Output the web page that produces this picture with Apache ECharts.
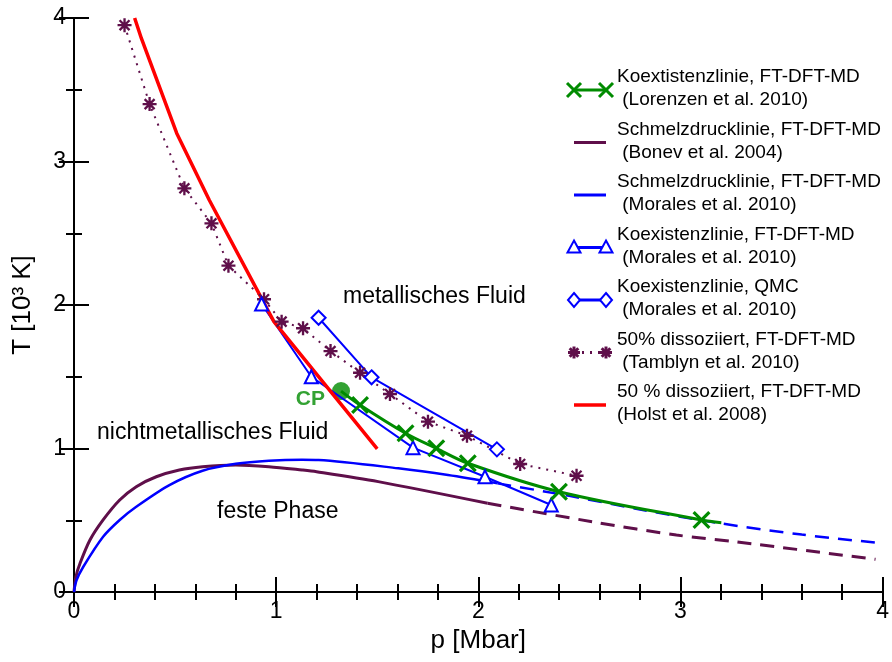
<!DOCTYPE html>
<html>
<head>
<meta charset="utf-8">
<script src="https://cdn.jsdelivr.net/npm/echarts@6/dist/echarts.min.js"></script>
<style>
  html, body { margin: 0; padding: 0; background: #fff; }
  #chart { width: 892px; height: 662px; }
</style>
</head>
<body>
<div id="chart"></div>
<script>
// ---- Phase diagram of hydrogen: p in Mbar, T in 10^3 K ----

// Melting line, Bonev et al. 2004 (computed part, then extrapolation)
const bonevP = [0, 0.01, 0.03, 0.079, 0.144, 0.226, 0.308, 0.407, 0.521, 0.636, 0.80, 0.964, 1.128, 1.20, 1.505, 2.046];
const bonevT = [0, 0.11, 0.2, 0.362, 0.502, 0.641, 0.734, 0.803, 0.850, 0.873, 0.885, 0.873, 0.850, 0.838, 0.769, 0.618];
const bonevExtP = [2.046, 2.587, 2.98, 3.276, 3.965];
const bonevExtT = [0.618, 0.484, 0.397, 0.349, 0.228];

// Melting line, Morales et al. 2010 (computed part, then extrapolation)
const moralesMeltP = [0, 0.012, 0.046, 0.144, 0.226, 0.308, 0.472, 0.636, 0.80, 0.964, 1.128, 1.21, 1.604, 1.85, 2.095];
const moralesMeltT = [0, 0.08, 0.176, 0.385, 0.502, 0.594, 0.745, 0.845, 0.893, 0.915, 0.922, 0.92, 0.862, 0.815, 0.757];
const moralesMeltExtP = [2.095, 2.45, 2.8, 3.2, 3.6, 4.0];
const moralesMeltExtT = [0.757, 0.67, 0.575, 0.478, 0.40, 0.339];

// Coexistence line FT-DFT-MD, Morales et al. 2010
const moralesCoexP = [0.928, 1.174, 1.677, 2.033, 2.361];
const moralesCoexT = [2.007, 1.500, 1.006, 0.803, 0.606];

// Coexistence line QMC, Morales et al. 2010
const qmcP = [1.210, 1.472, 2.092];
const qmcT = [1.911, 1.496, 0.994];

// 50 % dissociation, Tamblyn et al. 2010
const tamblynP = [0.25, 0.374, 0.546, 0.68, 0.764, 0.94, 1.027, 1.133, 1.269, 1.415, 1.563, 1.751, 1.944, 2.207, 2.486];
const tamblynT = [3.95, 3.40, 2.813, 2.569, 2.274, 2.04, 1.884, 1.838, 1.679, 1.528, 1.380, 1.187, 1.089, 0.892, 0.810];

// 50 % dissociation, Holst et al. 2008
const holstP = [0.30, 0.333, 0.508, 0.669, 0.989, 1.500];
const holstT = [4.0, 3.859, 3.197, 2.732, 1.884, 0.997];

// Coexistence line, Lorenzen et al. 2010 (starts at the critical point)
const lorenzenP = [1.321, 1.415, 1.640, 1.792, 1.948, 2.399, 3.104, 3.202];
const lorenzenT = [1.40, 1.303, 1.106, 1.001, 0.897, 0.699, 0.502, 0.483];
const lorenzenMarked = [false, true, true, true, true, true, true, false];

// Critical point
const cpP = [1.321];
const cpT = [1.40];

// Axis ticks
const axisMin = 0, axisMax = 4, axisStep = 1;

const purple = '#5f0f4a';
const blue = '#0000ff';
const green = '#008b00';
const red = '#ff0000';
const FONT = '"Liberation Sans", Arial, Helvetica, sans-serif';

const zip = (xs, ys) => xs.map((x, i) => [x, ys[i]]);

const starPath = 'path://M10 0L14 0L14 24L10 24Z M0 10L24 10L24 14L0 14Z M2.1 4.9L4.9 2.1L21.9 19.1L19.1 21.9Z M19.1 2.1L21.9 4.9L4.9 21.9L2.1 19.1Z';
const crossPath = 'path://M0 3L3 0L12 9L21 0L24 3L15 12L24 21L21 24L12 15L3 24L0 21L9 12Z';

function makeAxis(position, minorSplit, withLabel) {
  return {
    type: 'value',
    position: position,
    min: axisMin,
    max: axisMax,
    interval: axisStep,
    axisLine: { show: true, lineStyle: { color: '#000', width: 2 } },
    axisTick: { show: true, inside: true, length: 15, lineStyle: { color: '#000', width: 2 } },
    minorTick: { show: true, splitNumber: minorSplit, length: 8, lineStyle: { color: '#000', width: 2 } },
    splitLine: { show: false },
    axisLabel: { show: withLabel, color: '#000', fontSize: 23, fontFamily: FONT, margin: 8 }
  };
}

const series = [
  {
    name: 'bonev', type: 'line', data: zip(bonevP, bonevT), smooth: 0.3, symbol: 'none',
    lineStyle: { color: purple, width: 3 }
  },
  {
    name: 'bonevExt', type: 'line', data: zip(bonevExtP, bonevExtT), smooth: 0.3, symbol: 'none',
    lineStyle: { color: purple, width: 3, type: [14, 9] }
  },
  {
    name: 'moralesMelt', type: 'line', data: zip(moralesMeltP, moralesMeltT), smooth: 0.3, symbol: 'none',
    lineStyle: { color: blue, width: 2.5 }
  },
  {
    name: 'moralesMeltExt', type: 'line', data: zip(moralesMeltExtP, moralesMeltExtT), smooth: 0.3, symbol: 'none',
    lineStyle: { color: blue, width: 2.5, type: [14, 9] }
  },
  {
    name: 'tamblyn', type: 'line', data: zip(tamblynP, tamblynT), symbol: starPath, symbolSize: 14,
    itemStyle: { color: purple }, lineStyle: { color: purple, width: 2, type: [2, 6] }
  },
  {
    name: 'moralesCoex', type: 'line', data: zip(moralesCoexP, moralesCoexT), symbol: 'triangle', symbolSize: 13,
    itemStyle: { color: '#fff', borderColor: blue, borderWidth: 2 }, lineStyle: { color: blue, width: 2 }
  },
  {
    name: 'qmc', type: 'line', data: zip(qmcP, qmcT), symbol: 'diamond', symbolSize: 14,
    itemStyle: { color: '#fff', borderColor: blue, borderWidth: 2 }, lineStyle: { color: blue, width: 2 }
  },
  {
    name: 'holst', type: 'line', data: zip(holstP, holstT), symbol: 'none',
    lineStyle: { color: red, width: 3.5 }
  },
  {
    name: 'lorenzen', type: 'line', smooth: 0.35, symbolSize: 18,
    data: lorenzenP.map((p, i) => ({ value: [p, lorenzenT[i]], symbol: lorenzenMarked[i] ? crossPath : 'none' })),
    itemStyle: { color: green }, lineStyle: { color: green, width: 3 }
  },
  {
    name: 'CP', type: 'scatter', data: zip(cpP, cpT), symbol: 'circle', symbolSize: 18,
    itemStyle: { color: green },
    label: { show: true, formatter: 'CP', position: 'left', distance: 7, offset: [0, 8],
             color: green, fontSize: 21, fontWeight: 'bold', fontFamily: FONT }
  }
];
series.forEach(s => { s.xAxisIndex = 0; s.yAxisIndex = 0; s.silent = true; });

// Legend drawn as graphics: two text lines per entry, sample line with markers at both ends
const legendEntries = [
  { l1: 'Koextistenzlinie, FT-DFT-MD', l2: ' (Lorenzen et al. 2010)', color: green, marker: 'cross', dash: null },
  { l1: 'Schmelzdrucklinie, FT-DFT-MD', l2: ' (Bonev et al. 2004)', color: purple, marker: null, dash: null },
  { l1: 'Schmelzdrucklinie, FT-DFT-MD', l2: ' (Morales et al. 2010)', color: blue, marker: null, dash: null },
  { l1: 'Koexistenzlinie, FT-DFT-MD', l2: ' (Morales et al. 2010)', color: blue, marker: 'triangle', dash: null },
  { l1: 'Koexistenzlinie, QMC', l2: ' (Morales et al. 2010)', color: blue, marker: 'diamond', dash: null },
  { l1: '50% dissoziiert, FT-DFT-MD', l2: ' (Tamblyn et al. 2010)', color: purple, marker: 'star', dash: [2, 6] },
  { l1: '50 % dissoziiert, FT-DFT-MD', l2: '(Holst et al. 2008)', color: red, marker: null, dash: null }
];

const graphics = [];
const legTextX = 617, legTop = 77, legStep = 52.5, legLineGap = 23;
const legFont = '19px ' + FONT;
const seg = (x1, y1, x2, y2, color, w) =>
  ({ type: 'line', shape: { x1, y1, x2, y2 }, style: { stroke: color, lineWidth: w } });

legendEntries.forEach((e, i) => {
  const y1 = legTop + i * legStep;
  const ys = y1 + 13;
  graphics.push({ type: 'text', x: legTextX, y: y1, style: { text: e.l1, fill: '#000', font: legFont, textVerticalAlign: 'middle' } });
  graphics.push({ type: 'text', x: legTextX, y: y1 + legLineGap, style: { text: e.l2, fill: '#000', font: legFont, textVerticalAlign: 'middle' } });
  const x0 = 574, x1 = 606;
  graphics.push({ type: 'line', shape: { x1: x0, y1: ys, x2: x1, y2: ys },
    style: { stroke: e.color, lineWidth: e.color === red ? 3.5 : 3, lineDash: e.dash || null } });
  [x0, x1].forEach(cx => {
    if (e.marker === 'cross') {
      graphics.push(seg(cx - 7, ys - 7, cx + 7, ys + 7, e.color, 3));
      graphics.push(seg(cx - 7, ys + 7, cx + 7, ys - 7, e.color, 3));
    } else if (e.marker === 'star') {
      graphics.push(seg(cx - 6, ys, cx + 6, ys, e.color, 3));
      graphics.push(seg(cx, ys - 6, cx, ys + 6, e.color, 3));
      graphics.push(seg(cx - 4.3, ys - 4.3, cx + 4.3, ys + 4.3, e.color, 3));
      graphics.push(seg(cx - 4.3, ys + 4.3, cx + 4.3, ys - 4.3, e.color, 3));
    } else if (e.marker === 'triangle') {
      graphics.push({ type: 'polygon', shape: { points: [[cx, ys - 7], [cx + 6.5, ys + 5], [cx - 6.5, ys + 5]] },
        style: { fill: '#fff', stroke: e.color, lineWidth: 2 } });
    } else if (e.marker === 'diamond') {
      graphics.push({ type: 'polygon', shape: { points: [[cx, ys - 7], [cx + 6, ys], [cx, ys + 7], [cx - 6, ys]] },
        style: { fill: '#fff', stroke: e.color, lineWidth: 2 } });
    }
  });
});

// Region names
const regionLabels = [
  { text: 'metallisches Fluid', x: 343, y: 297 },
  { text: 'nichtmetallisches Fluid', x: 97, y: 433 },
  { text: 'feste Phase', x: 217, y: 512 }
];
regionLabels.forEach(r => {
  graphics.push({ type: 'text', x: r.x, y: r.y, style: { text: r.text, fill: '#000', font: '23px ' + FONT, textVerticalAlign: 'middle' } });
});

const xBottom = makeAxis('bottom', 5, true);
xBottom.name = 'p [Mbar]';
xBottom.nameLocation = 'middle';
xBottom.nameGap = 35;
xBottom.nameTextStyle = { color: '#000', fontSize: 26, fontFamily: FONT };

const yLeft = makeAxis('left', 2, true);
yLeft.name = 'T [10³ K]';
yLeft.nameLocation = 'middle';
yLeft.nameGap = 38;
yLeft.nameTextStyle = { color: '#000', fontSize: 26, fontFamily: FONT };

const chart = echarts.init(document.getElementById('chart'), null, { renderer: 'canvas' });
chart.setOption({
  animation: false,
  backgroundColor: '#fff',
  grid: { left: 74, right: 5, top: 18, bottom: 70 },
  xAxis: [xBottom, makeAxis('top', 5, false)],
  yAxis: [yLeft, makeAxis('right', 2, false)],
  series: series,
  graphic: graphics
});
</script>
</body>
</html>
